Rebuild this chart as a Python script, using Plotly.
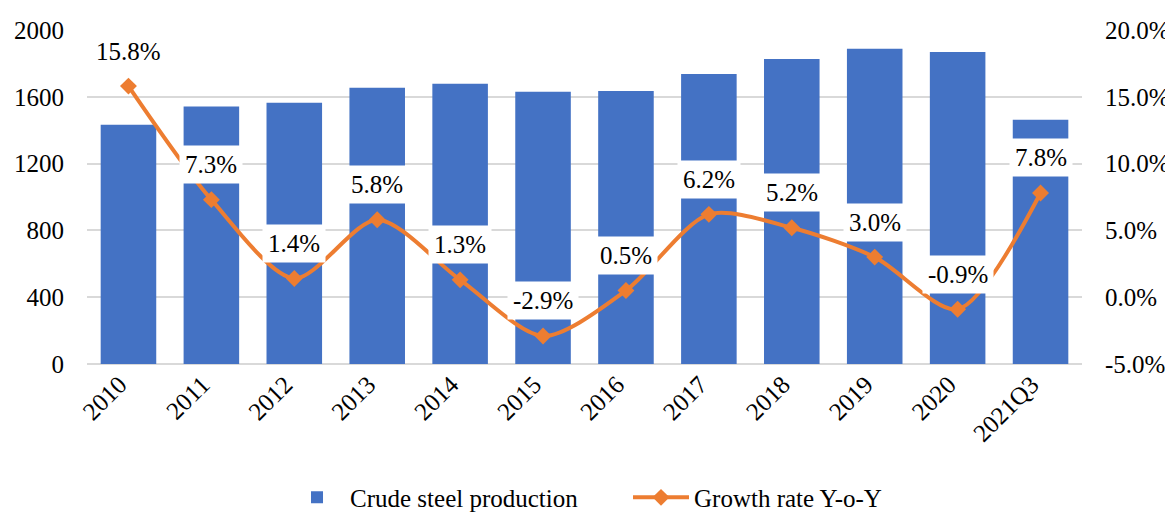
import plotly.graph_objects as go

categories = ["2010", "2011", "2012", "2013", "2014", "2015", "2016", "2017", "2018", "2019", "2020", "2021Q3"]
production = [1433, 1542, 1564, 1654, 1678, 1630, 1634, 1737, 1827, 1887, 1869, 1463]
growth = [15.8, 7.3, 1.4, 5.8, 1.3, -2.9, 0.5, 6.2, 5.2, 3.0, -0.9, 7.8]
growth_labels = ["15.8%", "7.3%", "1.4%", "5.8%", "1.3%", "-2.9%", "0.5%", "6.2%", "5.2%", "3.0%", "-0.9%", "7.8%"]
left_ticks = [0, 400, 800, 1200, 1600, 2000]
right_ticks = [-5, 0, 5, 10, 15, 20]
right_tick_text = ["-5.0%", "0.0%", "5.0%", "10.0%", "15.0%", "20.0%"]

FONT = "Liberation Serif, Times New Roman, serif"
FS = 25
BLUE = "#4472C4"
ORANGE = "#ED7D31"

fig = go.Figure()
fig.add_trace(go.Bar(
    x=categories, y=production, name="Crude steel production",
    marker=dict(color=BLUE, line=dict(width=0)), yaxis="y",
))
fig.add_trace(go.Scatter(
    x=categories, y=growth, name="Growth rate Y-o-Y", yaxis="y2",
    mode="lines+markers",
    line=dict(color=ORANGE, width=4, shape="spline", smoothing=0.8),
    marker=dict(symbol="diamond", size=13, color=ORANGE),
))

# category axis: annotations positioned by category index
for i, (g, t) in enumerate(zip(growth, growth_labels)):
    fig.add_annotation(
        x=i, y=g, xref="x", yref="y2", text=t, showarrow=False,
        yshift=35, bgcolor="white", borderpad=5,
        font=dict(family=FONT, size=FS, color="#000000"),
    )

fig.update_layout(
    width=1165, height=506,
    margin=dict(l=79, r=91, t=22, b=150, autoexpand=False),
    paper_bgcolor="white", plot_bgcolor="white",
    font=dict(family=FONT, size=FS, color="#000000"),
    bargap=0.33,
    showlegend=True,
    legend=dict(orientation="h", x=0.198, xanchor="left", y=-0.4, yanchor="middle",
                font=dict(family=FONT, size=FS), traceorder="normal", itemwidth=56,
                entrywidth=273, entrywidthmode="pixels"),
    xaxis=dict(type="category", tickangle=-45, showgrid=False, showline=False, ticks="",
               range=[-0.5, len(categories) - 0.5], automargin=False, ticklabelshift=-9,
               tickfont=dict(family=FONT, size=FS)),
    yaxis=dict(range=[0, 2000], tickvals=left_ticks, showgrid=True, gridcolor="#D9D9D9",
               gridwidth=1.5, zeroline=True, zerolinecolor="#D9D9D9", zerolinewidth=1.5,
               showline=False, ticks="", ticklabelstandoff=22, automargin=False,
               tickfont=dict(family=FONT, size=FS)),
    yaxis2=dict(range=[-5, 20], tickvals=right_ticks, ticktext=right_tick_text,
                overlaying="y", side="right", showgrid=False, zeroline=False,
                showline=False, ticks="", ticklabelstandoff=22, automargin=False,
                tickfont=dict(family=FONT, size=FS)),
)

fig.write_html("out.html")
